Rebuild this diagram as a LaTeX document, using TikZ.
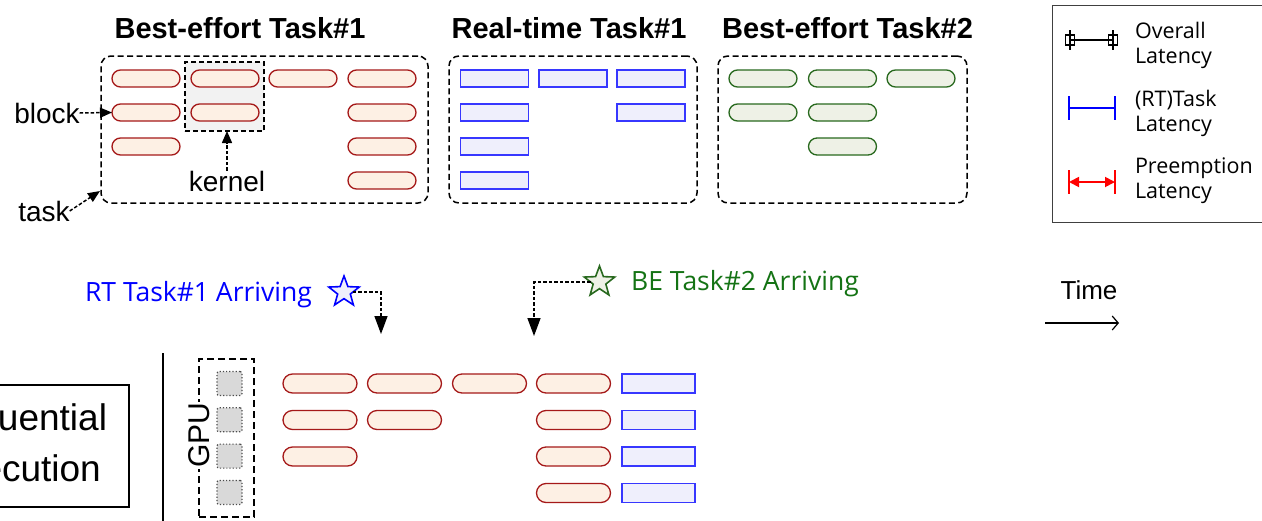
\documentclass[tikz,border=0pt]{standalone}
\usepackage{fontspec}
\setmainfont{Liberation Sans}
\newfontfamily\uifont{Open Sans}
\usetikzlibrary{arrows.meta,shapes.geometric}
\definecolor{beline}{RGB}{165,25,25}
\definecolor{befill}{RGB}{253,240,228}
\definecolor{rtline}{RGB}{55,55,255}
\definecolor{rtfill}{RGB}{239,239,252}
\definecolor{gnline}{RGB}{40,105,30}
\definecolor{gnfill}{RGB}{238,241,230}
\definecolor{gntext}{RGB}{20,115,20}
\begin{document}
\begin{tikzpicture}[x=1pt,y=-1pt]
        \tikzstyle{every node}=[inner sep=0pt, outer sep=0pt];
        \tikzstyle{title}=[font=\bfseries\fontsize{29}{32}\selectfont];
        \tikzstyle{lbl}=[font=\fontsize{28}{30}\selectfont];
        \tikzstyle{legtxt}=[font=\uifont\fontsize{21.5}{25}\selectfont, align=left, anchor=west];
        \tikzstyle{taskbox}=[draw, dashed, dash pattern=on 6pt off 3.5pt, line width=1.5pt, rounded corners=10pt];
        \tikzstyle{bekern}=[draw=beline, fill=befill, line width=1.3pt, rounded corners=8.5pt, minimum width=68pt, minimum height=17pt];
        \tikzstyle{rtkern}=[draw=rtline, fill=rtfill, line width=1.3pt, minimum width=68pt, minimum height=17pt];
        \tikzstyle{gnkern}=[draw=gnline, fill=gnfill, line width=1.3pt, rounded corners=8.5pt, minimum width=68pt, minimum height=17pt];
        \tikzstyle{callout}=[dashed, dash pattern=on 3.5pt off 2pt, line width=1.5pt, -{Triangle[length=12pt,width=10pt]}];
        \tikzstyle{arrive}=[dashed, dash pattern=on 3.5pt off 2pt, line width=1.5pt, -{Triangle[length=18pt,width=13pt]}];
        \tikzstyle{arrstar}=[star, star points=5, star point ratio=2.4, minimum size=32pt, line width=1.6pt];

        % task boxes and titles
        \useasboundingbox (0,0) rectangle (1262,520);
        \node[taskbox, minimum width=327pt, minimum height=147pt] (task1) at (264.5,129.5) {};
        \node[taskbox, minimum width=248pt, minimum height=147pt] (task2) at (573,129.5) {};
        \node[taskbox, minimum width=249pt, minimum height=147pt] (task3) at (842.5,129.5) {};
        \node[title] (title1) at (240,28) {Best-effort Task\#1};
        \node[title] (title2) at (569,28) {Real-time Task\#1};
        \node[title] (title3) at (847.5,28) {Best-effort Task\#2};

        % one kernel picked out
        \node[draw, dashed, dash pattern=on 5pt off 3pt, line width=1.5pt, fill=black!5, minimum width=79pt, minimum height=69pt] (kbox) at (224.5,96.5) {};

        % blocks of each task, column by column
        \foreach \c/\x/\n in {1/146/3, 2/225/2, 3/303/1, 4/382/4}
            \foreach \r in {1,...,\n}
                \node[bekern] (ba\c\r) at (\x,{44.5+34*\r}) {};
        \foreach \c/\x/\n in {1/494.5/4, 2/573/1, 3/651/2}
            \foreach \r in {1,...,\n}
                \node[rtkern] (rt\c\r) at (\x,{44.5+34*\r}) {};
        \foreach \c/\x/\n in {1/763/2, 2/842.5/3, 3/921/1}
            \foreach \r in {1,...,\n}
                \node[gnkern] (bb\c\r) at (\x,{44.5+34*\r}) {};

        % callouts
        \node[lbl] (blocklbl) at (47,113) {block};
        \node[lbl] (kernlbl) at (227,181) {kernel};
        \node[lbl] (tasklbl) at (44,211) {task};
        \coordinate (tasktip) at (100,191);
        \draw[callout] (blocklbl.east) -- (ba12.west);
        \draw[callout] (kernlbl.north) -- (kernlbl.north |- kbox.south);
        \draw[callout] (tasklbl.east) -- (tasktip);

        % legend
        \node[draw=black!75, line width=1pt, minimum width=220pt, minimum height=217pt, anchor=north west] (legend) at (1052,5) {};
        \coordinate (ov1) at (1070,40);
        \coordinate (ov2) at (1113,40);
        \draw[line width=1.2pt] (ov1) -- (ov2);
        \foreach \p in {ov1,ov2} {
            \node[draw, line width=1.2pt, minimum width=9pt, minimum height=10pt] at (\p) {};
            \draw[line width=1.2pt] ([yshift=10pt]\p) -- ([yshift=-10pt]\p);
        }
        \node[legtxt] (ovtxt) at (1135,45) {Overall\\Latency};
        \coordinate (rl1) at (1069,108);
        \coordinate (rl2) at (1115,108);
        \draw[blue, line width=2.5pt] ([yshift=12pt]rl1) -- ([yshift=-12pt]rl1) (rl1) -- (rl2) ([yshift=12pt]rl2) -- ([yshift=-12pt]rl2);
        \node[legtxt] (rltxt) at (1135,113) {(RT)Task\\Latency};
        \coordinate (pl1) at (1069,182);
        \coordinate (pl2) at (1115,182);
        \draw[red, line width=2.5pt] ([yshift=12pt]pl1) -- ([yshift=-12pt]pl1) ([yshift=12pt]pl2) -- ([yshift=-12pt]pl2);
        \draw[red, line width=1.8pt, {Triangle[length=10pt,width=10pt]}-{Triangle[length=10pt,width=10pt]}] (pl1) -- (pl2);
        \node[legtxt] (pltxt) at (1135,181) {Preemption\\Latency};

        % arrivals and time axis
        \node[arrstar, draw=blue, fill=rtfill] (rtstar) at (344,292) {};
        \node[font=\uifont\fontsize{26.5}{28}\selectfont, text=blue] (rtlbl) at (198.5,294.5) {RT Task\#1 Arriving};
        \coordinate (rtdrop) at (381,334);
        \draw[arrive] (rtstar.east) -| (rtdrop);
        \node[arrstar, draw=gnline, fill=gnfill] (bestar) at (599.5,282) {};
        \node[font=\uifont\fontsize{26.5}{28}\selectfont, text=gntext] (belbl) at (745,284) {BE Task\#2 Arriving};
        \coordinate (bedrop) at (534,336);
        \draw[arrive] (bestar.west) -| (bedrop);
        \node[font=\fontsize{26}{28}\selectfont] (timelbl) at (1089,290) {Time};
        \coordinate (tstart) at (1045,323);
        \coordinate (tend) at (1119,323);
        \draw[line width=1.2pt, -{Straight Barb[length=6pt,width=14pt]}] (tstart) -- (tend);

        % sequential execution on the GPU
        \node[draw, line width=1.5pt, minimum width=216pt, minimum height=122pt] (seqbox) at (21,446) {};
        \node[align=center, font=\fontsize{37}{51}\selectfont] (seqtxt) at (19.6,443) {Sequential\\Execution};
        \coordinate (sep1) at (163,353);
        \coordinate (sep2) at (163,525);
        \draw[line width=1.5pt] (sep1) -- (sep2);
        \node[draw, dashed, dash pattern=on 7pt off 4pt, line width=1.5pt, minimum width=55pt, minimum height=158pt] (gpu) at (226.5,438) {};
        \node[rotate=90, fill=white, inner sep=1pt, font=\fontsize{30}{32}\selectfont] (gpulbl) at (199,435) {GPU};
        \foreach \i in {1,...,4}
            \node[draw=black!70, dotted, line width=1.2pt, fill=black!15, rounded corners=2pt, minimum width=25pt, minimum height=24pt] (sm\i) at (229.5,{347.2+36.3*\i}) {};
        \foreach \c/\x/\n in {1/320/3, 2/404.5/2, 3/489.5/1, 4/573.5/4}
            \foreach \r in {1,...,\n}
                \node[bekern, minimum width=74pt, minimum height=19pt, rounded corners=9.5pt] (ex\c\r) at (\x,{347+36.5*\r}) {};
        \foreach \r in {1,...,4}
            \node[rtkern, minimum width=73pt, minimum height=19pt] (ex5\r) at (658.5,{347+36.5*\r}) {};
\end{tikzpicture}
\end{document}
